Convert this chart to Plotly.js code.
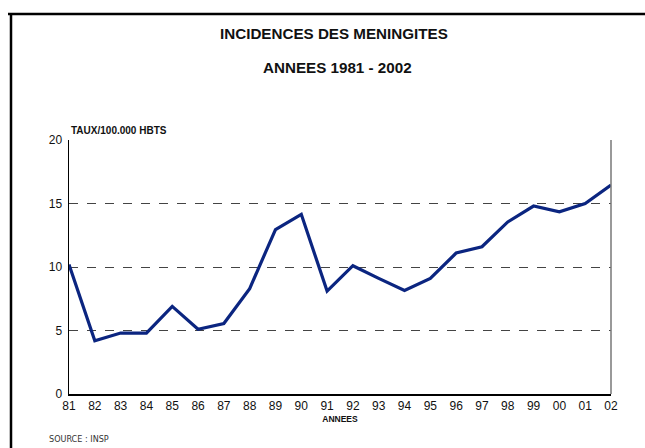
<!DOCTYPE html>
<html><head><meta charset="utf-8">
<script src="https://cdn.plot.ly/plotly-3.0.1.min.js"></script>
<style>html,body{margin:0;padding:0;background:#fff;}#chart{width:645px;height:448px;}</style>
</head><body><div id="chart"></div>
<script>
const years = ["81","82","83","84","85","86","87","88","89","90","91","92","93","94","95","96","97","98","99","00","01","02"];
const rates = [10.2,4.2,4.8,4.8,6.9,5.1,5.55,8.3,12.95,14.15,8.1,10.1,9.1,8.15,9.1,11.1,11.6,13.55,14.8,14.35,15.0,16.45];
const yTicks = [0,5,10,15,20];

const xIdx = years.map((_, i) => i);
const data = [{
  x: xIdx, y: rates, type: 'scatter', mode: 'lines',
  line: {color: '#0b2580', width: 3.2}, hoverinfo: 'skip', showlegend: false
}];
const f = 'Liberation Sans, Arial, sans-serif';
const layout = {
  width: 645, height: 448,
  margin: {l: 69, r: 34, t: 140, b: 54},
  paper_bgcolor: '#fff', plot_bgcolor: '#fff',
  showlegend: false,
  xaxis: {
    range: [0, 21], tickvals: xIdx, ticktext: years, showgrid: false, zeroline: false,
    showline: true, linecolor: '#000', linewidth: 1.5, ticks: '',
    tickfont: {family: f, size: 12, color: '#111'},
    title: {text: '<b>ANNEES</b>', font: {family: f, size: 8.5, color: '#111'}, standoff: 4}
  },
  yaxis: {
    range: [0, 20], tickvals: yTicks, showgrid: true, gridcolor: '#444', griddash: 'dash', gridwidth: 1,
    zeroline: false, showline: true, linecolor: '#000', linewidth: 1.5, ticks: '',
    tickfont: {family: f, size: 12, color: '#111'}, ticklabelstandoff: 3
  },
  shapes: [
    {type: 'line', xref: 'paper', yref: 'paper', x0: 1, x1: 1, y0: 0, y1: 1, line: {color: '#777', width: 1.5}},
    {type: 'line', xref: 'paper', yref: 'paper', x0: -61/542, x1: 576/542, y0: 1 + 126/254, y1: 1 + 126/254, line: {color: '#000', width: 2.5}},
    {type: 'line', xref: 'paper', yref: 'paper', x0: -58/542, x1: -58/542, y0: 1 + 126/254, y1: -60/254, line: {color: '#000', width: 2.5}}
  ],
  annotations: [
    {text: '<b>INCIDENCES DES MENINGITES</b>', xref: 'paper', yref: 'paper', x: 265/542, y: 361/254, xanchor: 'center', yanchor: 'middle',
     showarrow: false, font: {family: f, size: 15.2, color: '#111'}},
    {text: '<b>ANNEES 1981 - 2002</b>', xref: 'paper', yref: 'paper', x: 268/542, y: 327/254, xanchor: 'center', yanchor: 'middle',
     showarrow: false, font: {family: f, size: 15.2, color: '#111'}},
    {text: '<b>TAUX/100.000 HBTS</b>', xref: 'paper', yref: 'paper', x: 0, y: 264/254, xanchor: 'left', yanchor: 'middle',
     showarrow: false, font: {family: f, size: 10, color: '#111'}},
    {text: 'SOURCE : INSP', xref: 'paper', yref: 'paper', x: -22/542, y: -45/254, xanchor: 'left', yanchor: 'middle',
     showarrow: false, font: {family: 'DejaVu Sans Condensed, Liberation Sans Narrow, sans-serif', size: 9, color: '#333'}}
  ]
};
Plotly.newPlot('chart', data, layout, {displayModeBar: false, staticPlot: true});
</script></body></html>
